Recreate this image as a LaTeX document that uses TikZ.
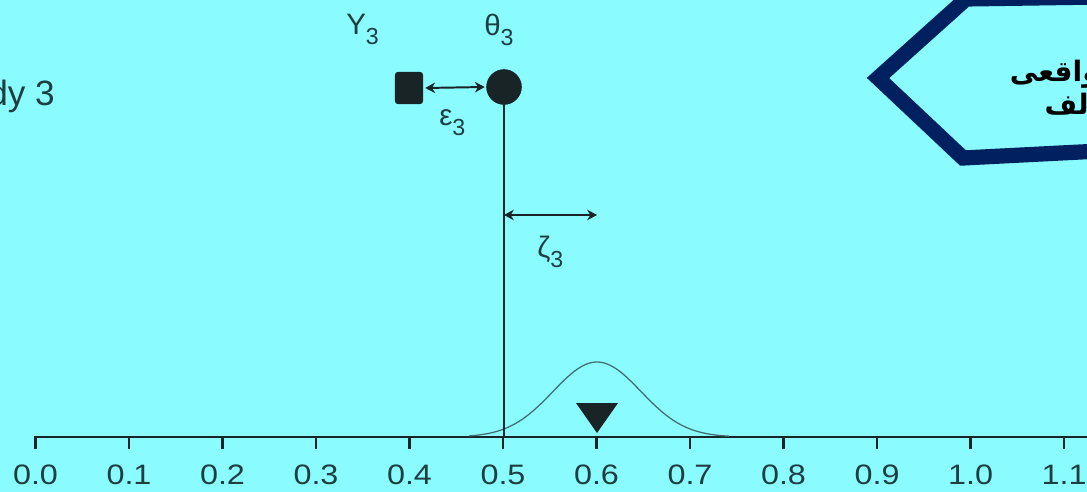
\documentclass[tikz,border=0pt]{standalone}
\usepackage{fontspec}
\setmainfont{Liberation Sans}
\newfontfamily\widefont{Liberation Sans}[FakeStretch=1.15]
\newfontfamily\arabicfont[Script=Arabic]{DejaVu Sans}
\TeXXeTstate=1
\usetikzlibrary{
  arrows.meta,
  positioning,
  shapes.geometric
}
\definecolor{bgcolor}{RGB}{138, 252, 255}
\definecolor{inkcolor}{RGB}{24, 36, 38}
\definecolor{labelcolor}{RGB}{30, 62, 64}
\definecolor{curvecolor}{RGB}{62, 112, 114}
\definecolor{framecolor}{RGB}{0, 32, 96}
\newcommand{\lowidx}[1]{\raisebox{-6.5pt}{\fontsize{16.5}{17}\selectfont #1}}
\tikzset{
ticklabel/.style={
  font=\widefont\fontsize{20}{24}\selectfont,
  text=labelcolor,
  anchor=base,
  inner sep=0pt
},
symlabel/.style={
  font=\fontsize{21}{25}\selectfont,
  text=labelcolor,
  inner sep=0pt,
  anchor=base west
},
axisline/.style={
  draw=inkcolor,
  line width=1.6pt
},
stemline/.style={
  draw=inkcolor,
  line width=1.3pt
},
dblarrow/.style={
  {Stealth[length=7pt,width=7.5pt]}-{Stealth[length=7pt,width=7.5pt]},
  line width=1.4pt,
  draw=inkcolor
},
persian/.style={
  font=\arabicfont\bfseries\fontsize{20}{24}\selectfont,
  text=black,
  inner sep=0pt,
  anchor=east
}
}

\begin{document}
\begin{tikzpicture}[
    x=0.025cm, y=-0.025cm,
    % node styles
    obsbox/.style={
        rectangle,
        rounded corners=2pt,
        fill=inkcolor,
        minimum width=0.7cm,
        minimum height=0.8cm,
        inner sep=0pt
    },
    truedot/.style={
        circle,
        fill=inkcolor,
        minimum size=0.88cm,
        inner sep=0pt
    },
    curveline/.style={draw=curvecolor, line width=0.9pt},
    hexframe/.style={draw=framecolor, line width=10.8pt, line join=miter}
]
\useasboundingbox[fill=bgcolor] (0,0) rectangle (1087,492);

% ============================================================================
% Axis with ticks
% ============================================================================
\coordinate (origin) at (35.5,437);
\coordinate (axisend) at (1095,437);
\draw[axisline] (origin) ++(0,12) -- (origin) -- (axisend);
\foreach \i/\lab in {0/0.0,1/0.1,2/0.2,3/0.3,4/0.4,5/0.5,6/0.6,7/0.7,8/0.8,9/0.9,10/1.0,11/1.1} {
  \draw[axisline] (35.5+93.5*\i,437) -- ++(0,12);
  \node[ticklabel] (tick\i) at (35.5+93.5*\i,484) {\lab};
}

% ============================================================================
% Study label
% ============================================================================
\node[symlabel, font=\fontsize{25}{28}\selectfont, anchor=base east] (study) at (55,106) {dy 3};

% ============================================================================
% Distribution and its mean
% ============================================================================
\draw[curveline] plot[domain=-2.9:3.0, samples=80, smooth] ({597+44*\x},{437-75*exp(-\x*\x/2)});
\fill[inkcolor] (576,403) -- (618,403) -- (597,433) -- cycle;

% ============================================================================
% Observed and true effects
% ============================================================================
\node[obsbox] (obs) at (409,88) {};
\node[truedot] (theta) at (504,87) {};
\node[symlabel] (ylab) at (346,35) {Y\lowidx{3}};
\node[symlabel] (thlab) at (484,36) {θ\lowidx{3}};

\coordinate (stemfoot) at (504,437);
\draw[stemline] (theta.center) -- (stemfoot);
\node[truedot] at (theta) {};

\draw[dblarrow] (obs.east) ++(2,0) -- ([xshift=-1pt]theta.west);
\node[symlabel] (eplab) at (439,126) {ε\lowidx{3}};

% ============================================================================
% Distance to the overall mean
% ============================================================================
\coordinate (zleft) at (504,215);
\coordinate (zright) at (597,215);
\draw[dblarrow] (zleft) -- (zright);
\node[symlabel] (zlab) at (537,258) {ζ\lowidx{3}};

% ============================================================================
% Frame with Persian note
% ============================================================================
\draw[hexframe] (1100,-3) -- (966,-1) -- (878,78) -- (963,158) -- (1100,151);
\node[persian] (ptop) at (1100,74) {\beginR واقعی\endR};
\node[persian] (pbot) at (1089,104) {\beginR لف\endR};

\end{tikzpicture}
\end{document}
